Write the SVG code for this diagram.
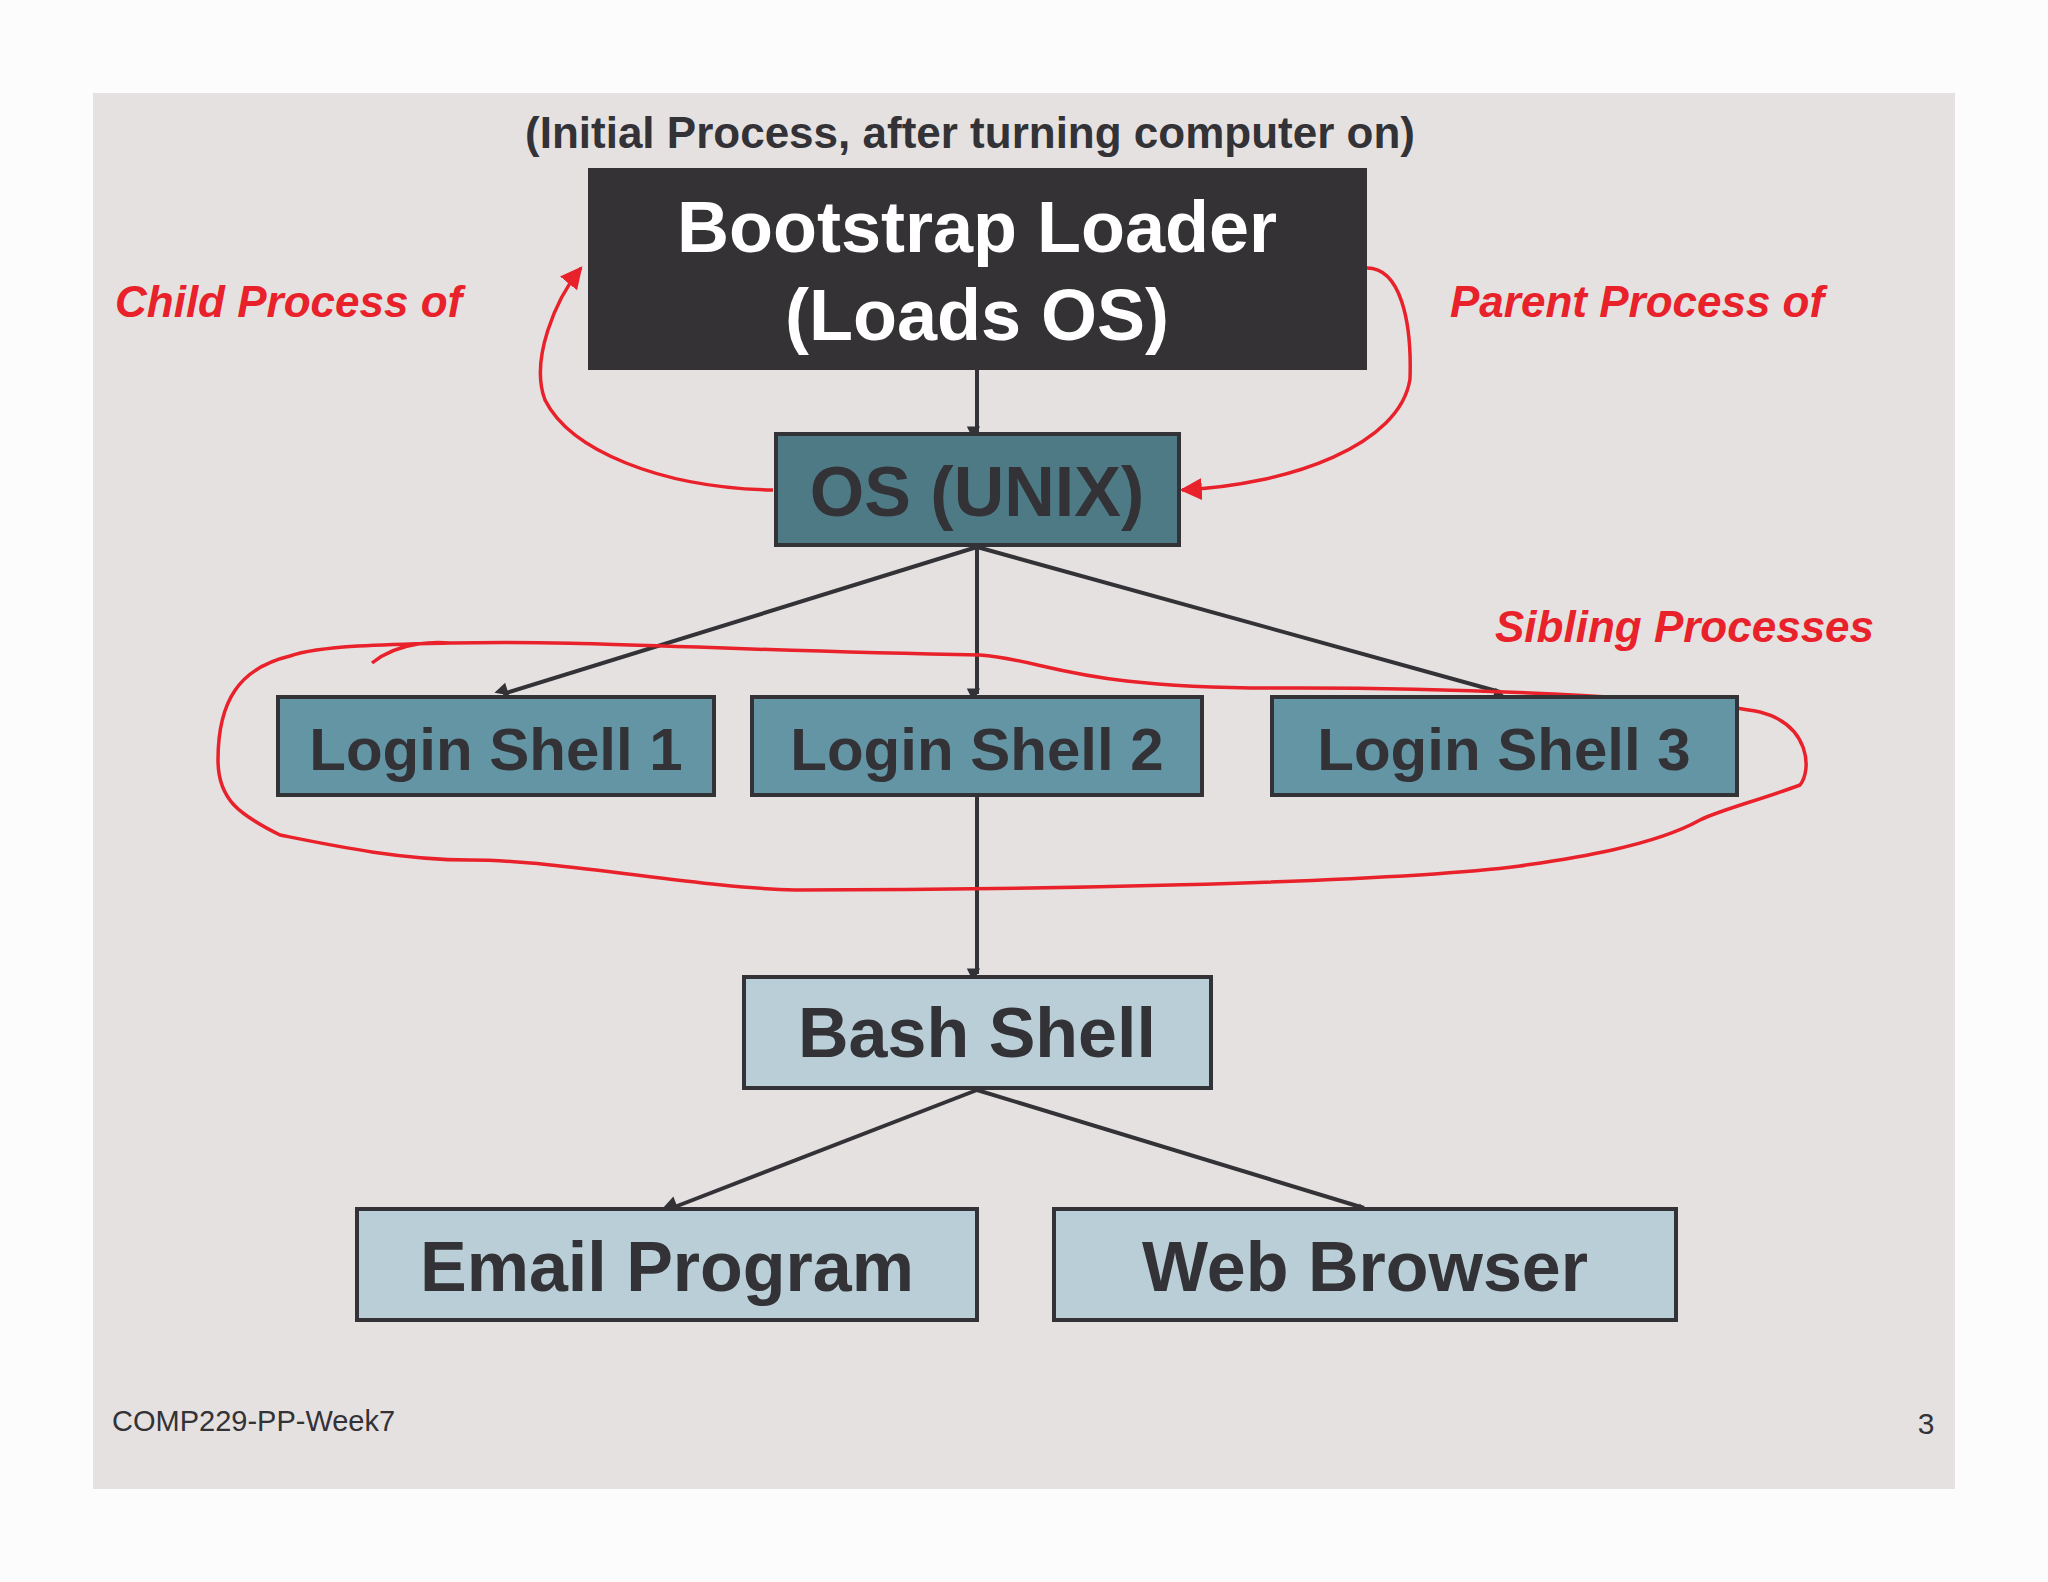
<svg xmlns="http://www.w3.org/2000/svg" width="2048" height="1582" viewBox="0 0 2048 1582">
<style>
.box{stroke:#333236;stroke-width:4}
.t{font-family:"Liberation Sans",Arial,sans-serif;font-weight:bold;text-anchor:middle;fill:#333236}
.red{font-family:"Liberation Sans",Arial,sans-serif;font-weight:bold;font-style:italic;fill:#e8212a;font-size:44px}
.c{stroke:#333236;stroke-width:4;fill:none;marker-end:url(#a)}
.r{stroke:#e8212a;stroke-width:3.5;fill:none}
</style>
<defs>
<marker id="a" viewBox="0 0 10 10" refX="9" refY="5" markerWidth="6" markerHeight="6" orient="auto" markerUnits="userSpaceOnUse" style="overflow:visible"><path d="M0,0 L10,5 L0,10z" fill="#333236" transform="scale(2.2) translate(-5,-5) translate(5,5)"/></marker>
<marker id="ra" viewBox="0 0 10 10" refX="9" refY="5" markerWidth="22" markerHeight="22" orient="auto" markerUnits="userSpaceOnUse"><path d="M0,0 L10,5 L0,10z" fill="#e8212a"/></marker>
</defs>
<rect width="2048" height="1582" fill="#fcfcfc"/>
<rect x="93" y="93" width="1862" height="1396" fill="#e6e1e1"/>
<text class="t" x="970" y="148" font-size="44">(Initial Process, after turning computer on)</text>
<g id="connectors">
<line class="c" x1="977" y1="370" x2="977" y2="432"/>
<line class="c" x1="977" y1="547" x2="503" y2="694"/>
<line class="c" x1="977" y1="547" x2="977" y2="694"/>
<line class="c" x1="977" y1="547" x2="1500" y2="692"/>
<line class="c" x1="977" y1="797" x2="977" y2="974"/>
<line class="c" x1="977" y1="1090" x2="672" y2="1208"/>
<line class="c" x1="977" y1="1090" x2="1364" y2="1208"/>
<path class="r" d="M773,490 C660,488 570,450 545,400 C530,360 555,300 581,268" marker-end="url(#ra)"/>
<path class="r" d="M1367,268 C1400,268 1412,320 1410,379 C1400,445 1290,485 1182,490" marker-end="url(#ra)"/>
<path class="r" d="M372,663 C400,640 440,642 450,643 C600,640 700,650 980,655 C1050,660 1070,690 1300,688 C1500,688 1700,700 1760,712 C1810,725 1812,770 1800,785 C1760,800 1720,810 1700,820 C1650,848 1560,860 1520,866 C1380,884 1000,890 795,890 C700,888 560,860 470,860 C400,860 330,845 280,835 C240,815 218,800 218,760 C218,700 240,668 290,656 C320,645 400,644 450,643"/>
</g>
<g id="bootstrap"><rect x="588" y="168" width="779" height="202" fill="#353236"/>
<text class="t" x="977" y="252" font-size="72" fill="#fff" style="fill:#fff">Bootstrap Loader</text>
<text class="t" x="977" y="340" font-size="72" style="fill:#fff">(Loads OS)</text></g>
<g id="os"><rect class="box" x="776" y="434" width="403" height="111" fill="#4e7a86"/>
<text class="t" x="977" y="516" font-size="70">OS (UNIX)</text></g>
<g id="ls1"><rect class="box" x="278" y="697" width="436" height="98" fill="#6395a5"/>
<text class="t" x="496" y="770" font-size="60">Login Shell 1</text></g>
<g id="ls2"><rect class="box" x="752" y="697" width="450" height="98" fill="#6395a5"/>
<text class="t" x="977" y="770" font-size="60">Login Shell 2</text></g>
<g id="ls3"><rect class="box" x="1272" y="697" width="465" height="98" fill="#6395a5"/>
<text class="t" x="1504" y="770" font-size="60">Login Shell 3</text></g>
<g id="bash"><rect class="box" x="744" y="977" width="467" height="111" fill="#b9ced7"/>
<text class="t" x="977" y="1057" font-size="70">Bash Shell</text></g>
<g id="email"><rect class="box" x="357" y="1209" width="620" height="111" fill="#b9ced7"/>
<text class="t" x="667" y="1291" font-size="70">Email Program</text></g>
<g id="web"><rect class="box" x="1054" y="1209" width="622" height="111" fill="#b9ced7"/>
<text class="t" x="1365" y="1291" font-size="70">Web Browser</text></g>
<text class="red" x="115" y="317">Child Process of</text>
<text class="red" x="1450" y="317">Parent Process of</text>
<text class="red" x="1495" y="642">Sibling Processes</text>
<text x="112" y="1431" font-family="Liberation Sans,Arial,sans-serif" font-size="29" fill="#333236">COMP229-PP-Week7</text>
<text x="1926" y="1434" font-family="Liberation Sans,Arial,sans-serif" font-size="30" fill="#333236" text-anchor="middle">3</text>
</svg>
